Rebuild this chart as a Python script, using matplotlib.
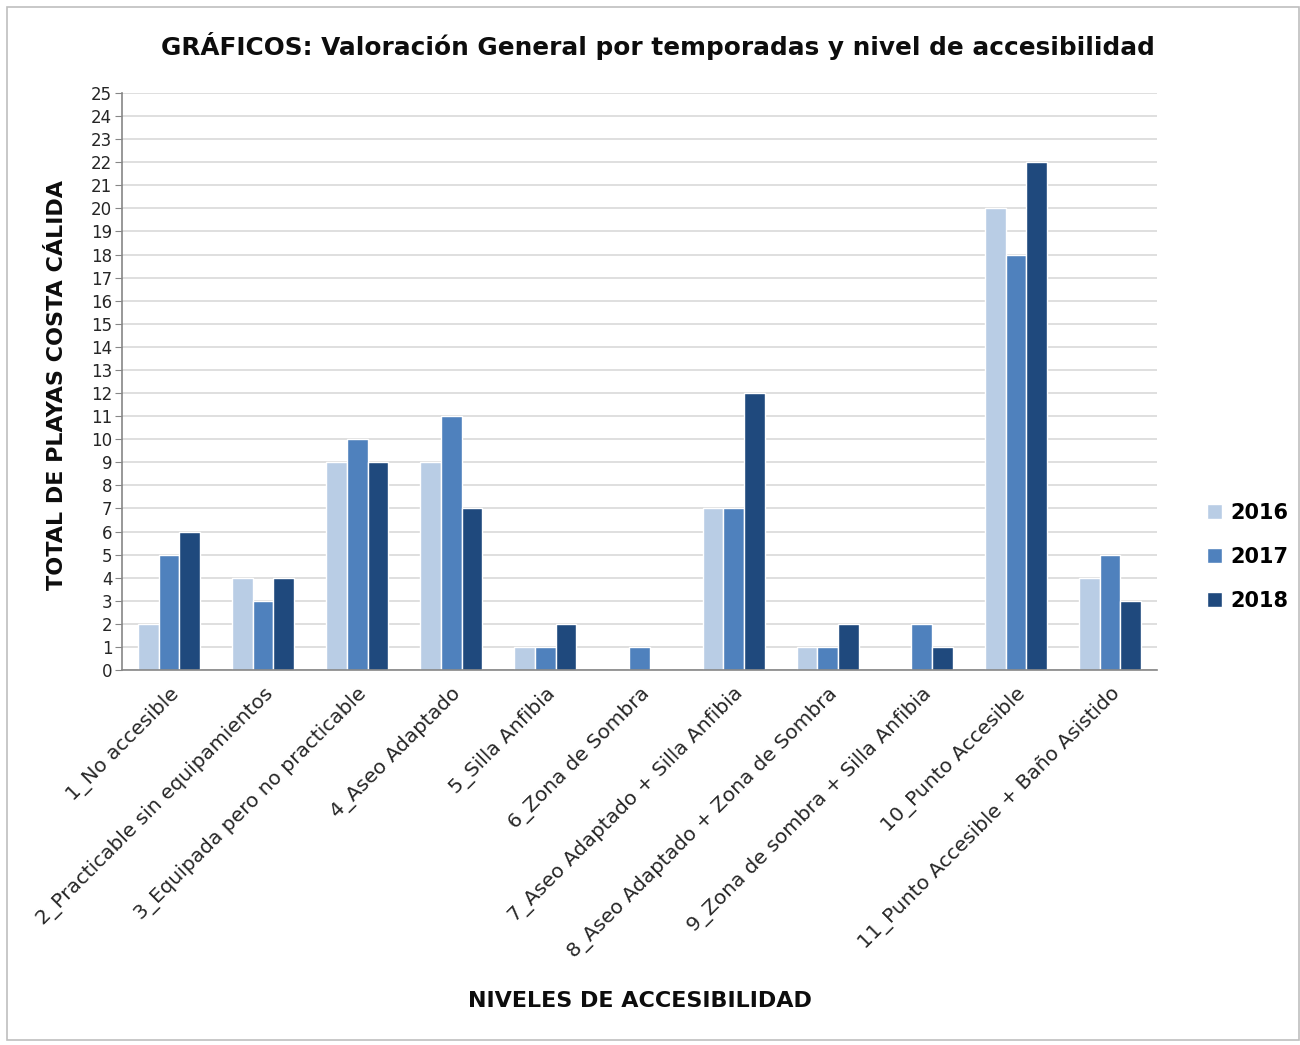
import matplotlib
matplotlib.use("Agg")
import matplotlib.pyplot as plt
import numpy as np
from matplotlib.patches import Rectangle

categories = ["1_No accesible", "2_Practicable sin equipamientos", "3_Equipada pero no practicable",
              "4_Aseo Adaptado", "5_Silla Anfibia", "6_Zona de Sombra",
              "7_Aseo Adaptado + Silla Anfibia", "8_Aseo Adaptado + Zona de Sombra",
              "9_Zona de sombra + Silla Anfibia", "10_Punto Accesible",
              "11_Punto Accesible + Baño Asistido"]
series_names = ["2016", "2017", "2018"]
v2016 = [2, 4, 9, 9, 1, 0, 7, 1, 0, 20, 4]
v2017 = [5, 3, 10, 11, 1, 1, 7, 1, 2, 18, 5]
v2018 = [6, 4, 9, 7, 2, 0, 12, 2, 1, 22, 3]
yticks = list(range(0, 26))

colors = ["#b9cde5", "#4f81bd", "#1f497d"]
plt.rcParams['font.family'] = ['DejaVu Sans']

fig = plt.figure(figsize=(13, 10.45), dpi=100)
fig.patches.append(Rectangle((7/1300, 5/1045), 1292/1300, 1033/1045, transform=fig.transFigure,
                             fill=False, edgecolor="#bfbfbf", linewidth=1.2))
ax = fig.add_axes([122/1300, (1045-670)/1045, (1157-122)/1300, (670-93)/1045])

x = np.arange(len(categories))
w = 0.22
for k, vals in enumerate([v2016, v2017, v2018]):
    ax.bar(x + (k-1)*w, vals, width=w, color=colors[k], edgecolor="white", linewidth=1.0,
           label=series_names[k], zorder=3)

ax.set_xlim(-0.5, len(categories)-0.5)
ax.set_ylim(0, 25)
ax.set_yticks(yticks)
ax.set_yticklabels([str(t) for t in yticks], fontsize=12, color="#262626")
ax.yaxis.grid(True, color="#d9d9d9", linewidth=1.2, zorder=0)
ax.set_axisbelow(True)
for s in ["top", "right"]:
    ax.spines[s].set_visible(False)
for s in ["left", "bottom"]:
    ax.spines[s].set_color("#868686")
    ax.spines[s].set_linewidth(1.2)
    ax.spines[s].set_zorder(4)
ax.tick_params(axis="y", length=5, color="#868686", pad=2)
ax.tick_params(axis="x", length=0, pad=10)
ax.set_xticks(x)
ax.set_xticklabels(categories, rotation=45, ha="right", rotation_mode="anchor",
                   fontsize=14.5, color="#262626")

fig.text(658/1300, 1 - 46/1045, "GRÁFICOS: Valoración General por temporadas y nivel de accesibilidad",
         ha="center", va="center", fontsize=17.8, fontweight="bold", color="#0d0d0d")
fig.text(57/1300, 1 - 385/1045, "TOTAL DE PLAYAS COSTA CÁLIDA", rotation=90,
         ha="center", va="center", fontsize=16, fontweight="bold", color="#0d0d0d")
fig.text(640/1300, 1 - 1001/1045, "NIVELES DE ACCESIBILIDAD",
         ha="center", va="center", fontsize=16, fontweight="bold", color="#0d0d0d")

leg = fig.legend(loc="center left", bbox_to_anchor=(1188/1300, 1 - 557/1045), frameon=False,
                 prop={"weight": "bold", "size": 15}, handlelength=0.75, handleheight=0.75,
                 handletextpad=0.4, labelspacing=1.15)

fig.savefig("out.png", dpi=100)
